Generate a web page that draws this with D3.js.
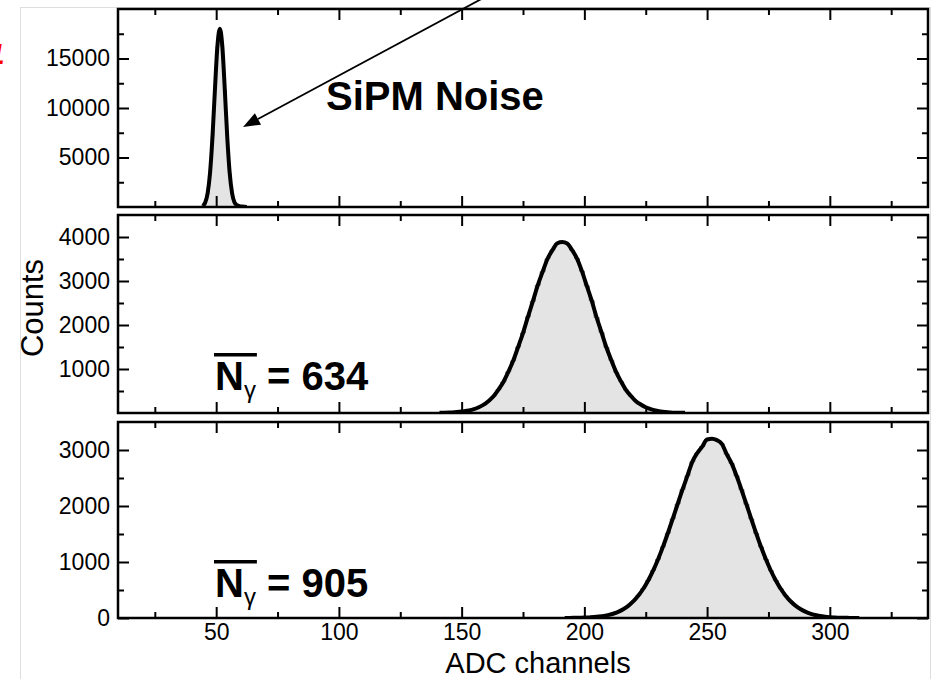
<!DOCTYPE html>
<html>
<head>
<meta charset="utf-8">
<script src="https://cdn.jsdelivr.net/npm/d3@7"></script>
<style>
  html, body { margin: 0; padding: 0; background: #fff; }
  svg { display: block; font-family: "Liberation Sans", Arial, Helvetica, sans-serif; }
</style>
</head>
<body>
<svg id="chart" width="935" height="679"></svg>
<script>
// ---- Spectra: low edge of first bin, bin width (ADC channels), counts per bin ----
const noiseLowEdge = 44;
const noiseBinWidth = 1;
const noiseCounts = [114, 437, 1361, 3447, 7105, 11907, 16234, 18000, 16234, 11907,
                     7105, 3447, 1361, 437, 180, 90, 50, 25, 10];

const run634LowEdge = 140;
const run634BinWidth = 2;
const run634Counts = [5, 8, 12, 18, 27, 41, 60, 89, 131, 190, 274, 380, 530, 705, 933,
                      1186, 1498, 1818, 2185, 2536, 2902, 3210, 3505, 3702, 3858, 3885,
                      3851, 3700, 3510, 3225, 2888, 2552, 2170, 1832, 1488, 1197, 925,
                      712, 522, 386, 268, 192, 130, 88, 57, 36, 23, 14, 8, 5, 3];

const run905LowEdge = 191;
const run905BinWidth = 2;
const run905Counts = [1, 2, 3, 5, 7, 11, 16, 25, 37, 55, 80, 114, 161, 222, 300, 400,
                      523, 671, 846, 1046, 1270, 1514, 1772, 2035, 2295, 2541, 2790,
                      2946, 3060, 3188, 3200, 3176, 3110, 2925, 2760, 2539, 2293, 2033,
                      1770, 1512, 1268, 1044, 844, 670, 522, 399, 299, 221, 160, 113,
                      79, 54, 36, 24, 15, 10, 6, 4, 2, 1, 0];

// ---- Axes ----
const xDomain = [10, 340];
const xMajorTicks = [50, 100, 150, 200, 250, 300];
const xMinorTicks = [25, 75, 125, 175, 225, 275, 325];

const noiseYMax = 20000;
const noiseYMajor = [5000, 10000, 15000];
const noiseYMinor = [2500, 7500, 12500, 17500];

const run634YMax = 4500;
const run634YMajor = [1000, 2000, 3000, 4000];
const run634YMinor = [500, 1500, 2500, 3500];

const run905YMax = 3500;
const run905YMajor = [0, 1000, 2000, 3000];
const run905YMinor = [500, 1500, 2500];

// ---- Texts ----
const xTitle = "ADC channels";
const yTitle = "Counts";
const noiseLabel = "SiPM Noise";
const photonMeans = ["634", "905"];

// ---- Layout ----
const plotLeft = 118, plotRight = 928;
const bands = [[9, 207], [215, 413], [422, 618]];
const majorLen = 11, minorLen = 6;
const tickFont = 23;

const svg = d3.select("#chart");

// light page border
svg.append("rect")
  .attr("x", 20.5).attr("y", 7.5).attr("width", 910).attr("height", 700)
  .attr("fill", "none").attr("stroke", "#dedede").attr("stroke-width", 1);

// red annotation running off the left edge
svg.append("text")
  .attr("x", 6).attr("y", 64)
  .attr("text-anchor", "end")
  .attr("font-family", "DejaVu Sans")
  .attr("font-weight", "bold").attr("font-style", "italic")
  .attr("font-size", 26).attr("fill", "#ff0000")
  .text("1");

const x = d3.scaleLinear().domain(xDomain).range([plotLeft, plotRight]);

const panels = [
  { low: noiseLowEdge, width: noiseBinWidth, counts: noiseCounts, yMax: noiseYMax,
    yMajor: noiseYMajor, yMinor: noiseYMinor, band: bands[0], xLabels: false },
  { low: run634LowEdge, width: run634BinWidth, counts: run634Counts, yMax: run634YMax,
    yMajor: run634YMajor, yMinor: run634YMinor, band: bands[1], xLabels: false },
  { low: run905LowEdge, width: run905BinWidth, counts: run905Counts, yMax: run905YMax,
    yMajor: run905YMajor, yMinor: run905YMinor, band: bands[2], xLabels: true }
];

function styleAxis(sel, withText) {
  sel.select(".domain").remove();
  sel.attr("font-family", null).attr("font-size", null);
  sel.selectAll("line").attr("stroke", "#000").attr("stroke-width", 2);
  sel.selectAll("text")
    .attr("fill", "#000")
    .attr("font-size", tickFont)
    .style("display", withText ? null : "none");
}

panels.forEach((p, idx) => {
  const [top, bottom] = p.band;
  const y = d3.scaleLinear().domain([0, p.yMax]).range([bottom, top]);
  const g = svg.append("g");

  const clipId = "clip" + idx;
  svg.append("clipPath").attr("id", clipId)
    .append("rect").attr("x", plotLeft).attr("y", top)
    .attr("width", plotRight - plotLeft).attr("height", bottom - top);

  const content = g.append("g").attr("clip-path", `url(#${clipId})`);

  // histogram as steps
  const steps = p.counts.map((c, i) => ({ e: p.low + i * p.width, c }));
  steps.push({ e: p.low + p.counts.length * p.width, c: p.counts[p.counts.length - 1] });

  content.append("path")
    .datum(steps)
    .attr("fill", "#e4e4e4")
    .attr("stroke", "#555")
    .attr("stroke-width", 0.8)
    .attr("d", d3.area()
      .x(d => x(d.e)).y0(y(0)).y1(d => y(d.c))
      .curve(d3.curveStepAfter));

  // smooth line through the bin centres
  const centres = p.counts.map((c, i) => ({ m: p.low + (i + 0.5) * p.width, c }));
  content.append("path")
    .datum(centres)
    .attr("fill", "none")
    .attr("stroke", "#000")
    .attr("stroke-width", 4)
    .attr("stroke-linejoin", "round")
    .attr("d", d3.line().x(d => x(d.m)).y(d => y(d.c)).curve(d3.curveMonotoneX));

  // ticks, all four sides, pointing inwards
  g.append("g").attr("transform", `translate(${plotLeft},0)`)
    .call(d3.axisLeft(y).tickValues(p.yMajor).tickSize(-majorLen).tickPadding(8)
      .tickFormat(d => String(d)))
    .call(s => styleAxis(s, true));
  g.append("g").attr("transform", `translate(${plotLeft},0)`)
    .call(d3.axisLeft(y).tickValues(p.yMinor).tickSize(-minorLen).tickFormat(""))
    .call(s => styleAxis(s, false));
  g.append("g").attr("transform", `translate(${plotRight},0)`)
    .call(d3.axisRight(y).tickValues(p.yMajor).tickSize(-majorLen).tickFormat(""))
    .call(s => styleAxis(s, false));
  g.append("g").attr("transform", `translate(${plotRight},0)`)
    .call(d3.axisRight(y).tickValues(p.yMinor).tickSize(-minorLen).tickFormat(""))
    .call(s => styleAxis(s, false));
  g.append("g").attr("transform", `translate(0,${top})`)
    .call(d3.axisTop(x).tickValues(xMajorTicks).tickSize(-majorLen).tickFormat(""))
    .call(s => styleAxis(s, false));
  g.append("g").attr("transform", `translate(0,${top})`)
    .call(d3.axisTop(x).tickValues(xMinorTicks).tickSize(-minorLen).tickFormat(""))
    .call(s => styleAxis(s, false));
  g.append("g").attr("transform", `translate(0,${bottom})`)
    .call(d3.axisBottom(x).tickValues(xMajorTicks).tickSize(-majorLen).tickPadding(6)
      .tickFormat(d => String(d)))
    .call(s => styleAxis(s, p.xLabels));
  g.append("g").attr("transform", `translate(0,${bottom})`)
    .call(d3.axisBottom(x).tickValues(xMinorTicks).tickSize(-minorLen).tickFormat(""))
    .call(s => styleAxis(s, false));

  // frame
  g.append("rect")
    .attr("x", plotLeft).attr("y", top)
    .attr("width", plotRight - plotLeft).attr("height", bottom - top)
    .attr("fill", "none").attr("stroke", "#000").attr("stroke-width", 2.5);
});

// axis titles
svg.append("text")
  .attr("x", 538).attr("y", 672.5)
  .attr("text-anchor", "middle")
  .attr("font-size", 29)
  .text(xTitle);

svg.append("text")
  .attr("transform", "translate(43,308) rotate(-90)")
  .attr("text-anchor", "middle")
  .attr("font-size", 31)
  .text(yTitle);

// noise label and arrow
svg.append("text")
  .attr("x", 326).attr("y", 110)
  .attr("font-size", 40).attr("font-weight", "bold")
  .text(noiseLabel);

(function arrow() {
  const tip = [243, 127], from = [500, -11];
  const dx = from[0] - tip[0], dy = from[1] - tip[1];
  const len = Math.hypot(dx, dy);
  const ux = dx / len, uy = dy / len;
  const headLen = 17, halfW = 6.5;
  const bx = tip[0] + ux * headLen, by = tip[1] + uy * headLen;
  svg.append("line")
    .attr("x1", from[0]).attr("y1", from[1]).attr("x2", bx).attr("y2", by)
    .attr("stroke", "#000").attr("stroke-width", 1.8);
  svg.append("path")
    .attr("d", `M${tip[0]},${tip[1]}L${bx - uy * halfW},${by + ux * halfW}L${bx + uy * halfW},${by - ux * halfW}Z`)
    .attr("fill", "#000");
})();

// mean photon number labels
function photonLabel(px, baseline, value) {
  const t = svg.append("text")
    .attr("x", px).attr("y", baseline)
    .attr("font-size", 40).attr("font-weight", "bold");
  const n = t.append("tspan").text("N");
  const gam = t.append("tspan").attr("font-size", 24).attr("font-weight", "normal")
    .attr("dy", 8).text("γ");
  t.append("tspan").attr("dy", -8).text(" = " + value);
  const w = n.node().getComputedTextLength() + gam.node().getComputedTextLength();
  svg.append("rect")
    .attr("x", px - 1).attr("y", baseline - 37)
    .attr("width", w + 2).attr("height", 3.5)
    .attr("fill", "#000");
}
photonLabel(215, 390, photonMeans[0]);
photonLabel(215, 597, photonMeans[1]);
</script>
</body>
</html>
